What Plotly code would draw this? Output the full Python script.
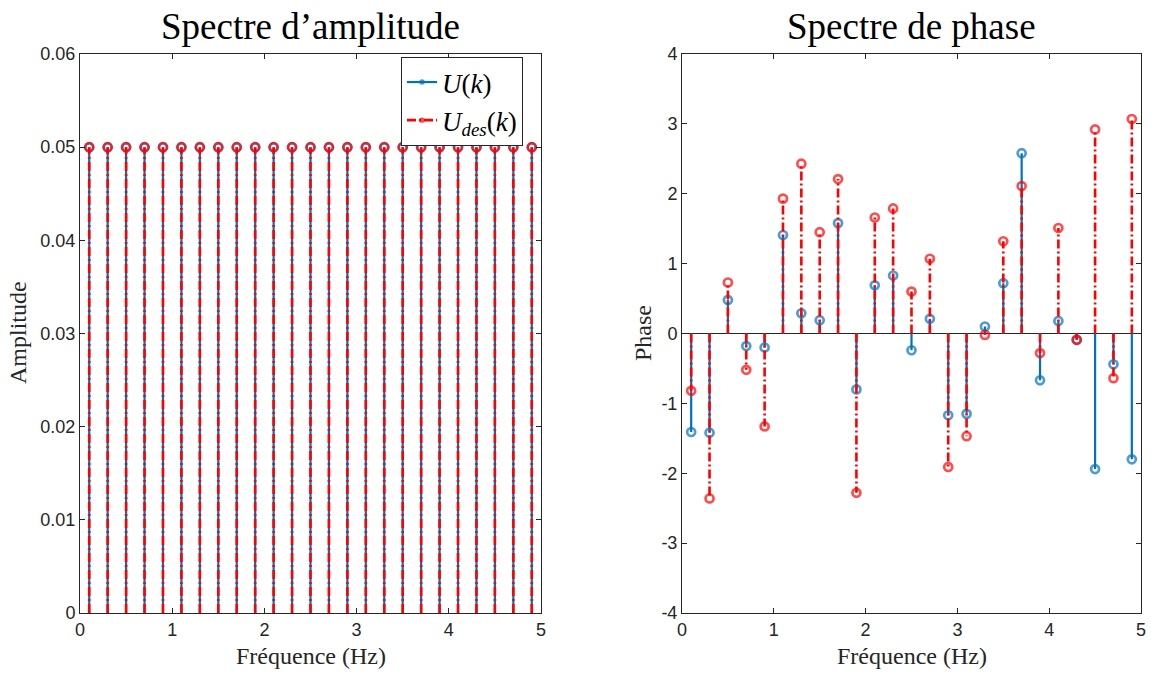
import plotly.graph_objects as go

freq = [0.1, 0.3, 0.5, 0.7, 0.9, 1.1, 1.3, 1.5, 1.7, 1.9, 2.1, 2.3, 2.5,
        2.7, 2.9, 3.1, 3.3, 3.5, 3.7, 3.9, 4.1, 4.3, 4.5, 4.7, 4.9]
amp_u = [0.05] * 25
amp_udes = [0.05] * 25
phase_u = [-1.41, -1.42, 0.48, -0.18, -0.20, 1.41, 0.29, 0.19, 1.58, -0.80,
           0.69, 0.83, -0.24, 0.21, -1.17, -1.15, 0.10, 0.72, 2.58, -0.67,
           0.18, -0.09, -1.94, -0.44, -1.80]
phase_udes = [-0.82, -2.36, 0.73, -0.52, -1.33, 1.93, 2.43, 1.45, 2.21, -2.28,
              1.66, 1.79, 0.60, 1.07, -1.91, -1.47, -0.02, 1.32, 2.11, -0.28,
              1.51, -0.09, 2.92, -0.64, 3.07]
amp_ticks = [0, 0.01, 0.02, 0.03, 0.04, 0.05, 0.06]
amp_ticktext = ["0", "0.01", "0.02", "0.03", "0.04", "0.05", "0.06"]
phase_ticks = [-4, -3, -2, -1, 0, 1, 2, 3, 4]
phase_ticktext = ["-4", "-3", "-2", "-1", "0", "1", "2", "3", "4"]
freq_ticks = [0, 1, 2, 3, 4, 5]

BLUE = "#0072BD"
RED = "#FF0000"
SERIF = "Liberation Serif, DejaVu Serif, serif"
SANS = "Liberation Sans, Arial, sans-serif"


def stem(xs, ys, color, dash, width, name, xa, ya, show):
    sx, sy, ss = [], [], []
    for x, y in zip(xs, ys):
        sx += [x, x, None]
        sy += [0, y, None]
        ss += [0, 8, 0]
    return go.Scatter(x=sx, y=sy, mode="lines+markers", name=name,
                      xaxis=xa, yaxis=ya, showlegend=show, connectgaps=False,
                      line=dict(color=color, width=width, dash=dash),
                      marker=dict(symbol="circle-open", size=ss, color=color,
                                  line=dict(width=2.7, color=color)))


fig = go.Figure()
dashdot = "9px,3px,2px,3px"
fig.add_trace(stem(freq, amp_u, BLUE, "solid", 2.2,
                   "<i>U</i>(<i>k</i>)", "x", "y", True))
fig.add_trace(stem(freq, amp_udes, RED, dashdot, 2.6,
                   "<i>U</i><sub><i>des</i></sub>(<i>k</i>)", "x", "y", True))
fig.add_trace(stem(freq, phase_u, BLUE, "solid", 2.2, "U", "x2", "y2", False))
fig.add_trace(stem(freq, phase_udes, RED, dashdot, 2.6, "Udes", "x2", "y2", False))

axcommon = dict(showline=True, mirror="ticks", linecolor="#262626", linewidth=1,
                ticks="inside", ticklen=5, tickcolor="#262626", showgrid=False,
                zeroline=False, automargin=False,
                tickfont=dict(family=SANS, size=18, color="#262626"))

W, H = 1151, 673
L1, R1, L2, R2, TOP, BOT = 80, 541, 682, 1141, 54, 613
fig.update_layout(
    width=W, height=H, margin=dict(l=0, r=0, t=0, b=0, autoexpand=False),
    paper_bgcolor="white", plot_bgcolor="white",
    xaxis=dict(domain=[L1 / W, R1 / W], range=[0, 5], tickvals=freq_ticks,
               anchor="y", **axcommon),
    yaxis=dict(domain=[1 - BOT / H, 1 - TOP / H], range=[0, 0.06], tickvals=amp_ticks,
               ticktext=amp_ticktext, anchor="x", **axcommon),
    xaxis2=dict(domain=[L2 / W, R2 / W], range=[0, 5], tickvals=freq_ticks,
                anchor="y2", **axcommon),
    yaxis2=dict(domain=[1 - BOT / H, 1 - TOP / H], range=[-4, 4], tickvals=phase_ticks,
                ticktext=phase_ticktext, anchor="x2", **axcommon),
    legend=dict(x=523 / W, y=1 - 57 / H, xanchor="right", yanchor="top",
                bordercolor="#262626", borderwidth=1, bgcolor="white",
                font=dict(family=SERIF, size=27, color="black"),
                itemwidth=30, tracegroupgap=0),
    showlegend=True,
)

fig.add_shape(type="line", xref="x2", yref="y2", x0=0, x1=5, y0=0, y1=0,
              line=dict(color="#262626", width=1), layer="below")


def ann(x, y, text, size, angle=0, color="black"):
    fig.add_annotation(x=x / W, y=1 - y / H, xref="paper", yref="paper",
                       xanchor="center", yanchor="middle", showarrow=False,
                       textangle=angle, text=text,
                       font=dict(family=SERIF, size=size, color=color))


ann((L1 + R1) / 2, 27, "Spectre d’amplitude", 37)
ann((L2 + R2) / 2, 27, "Spectre de phase", 37)
ann((L1 + R1) / 2, 656, "Fréquence (Hz)", 24, color="#262626")
ann((L2 + R2) / 2, 656, "Fréquence (Hz)", 24, color="#262626")
ann(18, 333, "Amplitude", 24, angle=-90, color="#262626")
ann(643, 333, "Phase", 24, angle=-90, color="#262626")

fig.write_html("out.html", config={"displayModeBar": False},
               post_script="document.body.style.margin='0';")
